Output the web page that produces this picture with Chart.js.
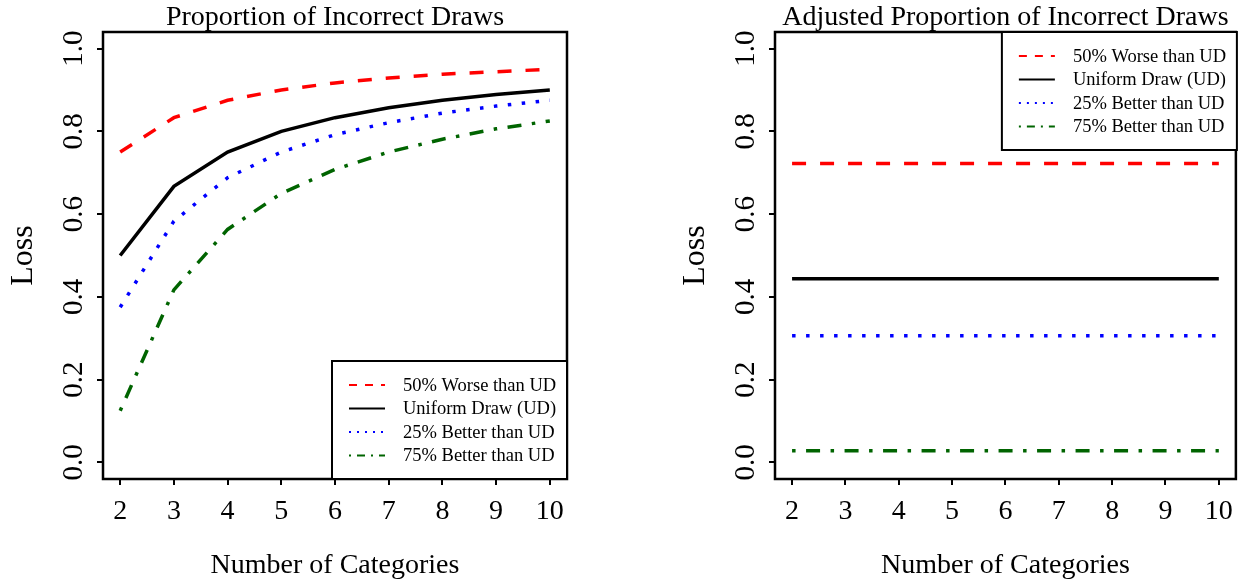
<!DOCTYPE html>
<html>
<head>
<meta charset="utf-8">
<script src="https://cdn.jsdelivr.net/npm/chart.js@4"></script>
<style>
  html, body { margin: 0; padding: 0; background: #fff; }
  #wrap { position: relative; width: 1243px; height: 580px; }
  canvas { position: absolute; top: 0; }
</style>
</head>
<body>
<div id="wrap">
  <canvas id="leftChart" width="621" height="580" style="left:0"></canvas>
  <canvas id="rightChart" width="622" height="580" style="left:621px"></canvas>
</div>
<script>
// number of categories on the x axis, and the loss ticks on y
const categories = [2, 3, 4, 5, 6, 7, 8, 9, 10];
const lossTicks = [0, 0.2, 0.4, 0.6, 0.8, 1.0];
const seriesNames = ['50% Worse than UD', 'Uniform Draw (UD)', '25% Better than UD', '75% Better than UD'];

// raw proportion of incorrect draws
const worseLoss    = [0.75, 0.833, 0.875, 0.9, 0.917, 0.929, 0.938, 0.944, 0.95];
const uniformLoss  = [0.5, 0.667, 0.75, 0.8, 0.833, 0.857, 0.875, 0.889, 0.9];
const better25Loss = [0.375, 0.583, 0.688, 0.75, 0.792, 0.821, 0.844, 0.861, 0.875];
const better75Loss = [0.125, 0.417, 0.563, 0.65, 0.708, 0.75, 0.781, 0.806, 0.825];

// adjusted proportion
const worseAdj    = [0.722, 0.722, 0.722, 0.722, 0.722, 0.722, 0.722, 0.722, 0.722];
const uniformAdj  = [0.444, 0.444, 0.444, 0.444, 0.444, 0.444, 0.444, 0.444, 0.444];
const better25Adj = [0.306, 0.306, 0.306, 0.306, 0.306, 0.306, 0.306, 0.306, 0.306];
const better75Adj = [0.028, 0.028, 0.028, 0.028, 0.028, 0.028, 0.028, 0.028, 0.028];

const FONT = '"Liberation Serif", "Times New Roman", serif';
const LW = 3.5;
const colors = ['#ff0000', '#000000', '#0000ff', '#006400'];
// R style lty: dashed, solid, dotted, dotdash (scaled by line width)
const ltys = [[4, 4], [], [1, 3], [1, 3, 4, 3]];

function buildDatasets(seriesList) {
  return seriesList.map((vals, i) => ({
    label: seriesNames[i],
    data: categories.map((c, j) => ({ x: c, y: vals[j] })),
    borderColor: colors[i],
    borderWidth: LW,
    borderDash: ltys[i].map(d => d * LW),
    borderCapStyle: 'butt',
    pointRadius: 0,
    tension: 0,
    fill: false
  }));
}

function drawLegend(ctx, chart, x, y) {
  const w = 235, h = 118;
  ctx.save();
  ctx.fillStyle = '#fff';
  ctx.fillRect(x, y, w, h);
  ctx.lineWidth = 2;
  ctx.strokeStyle = '#000';
  ctx.strokeRect(x, y, w, h);
  chart.data.datasets.forEach((ds, i) => {
    const ry = y + 24 + i * 23.5;
    ctx.save();
    ctx.strokeStyle = ds.borderColor;
    ctx.lineWidth = 2;
    ctx.setLineDash(ltys[i].map(d => d * 2));
    ctx.beginPath();
    ctx.moveTo(x + 17, ry);
    ctx.lineTo(x + 53, ry);
    ctx.stroke();
    ctx.restore();
    ctx.fillStyle = '#000';
    ctx.font = '18.5px ' + FONT;
    ctx.textAlign = 'left';
    ctx.textBaseline = 'middle';
    ctx.fillText(ds.label, x + 71, ry + 1);
  });
  ctx.restore();
}

function makePanel(canvasId, title, seriesList, boxLeft, padRight, legendPos) {
  const decor = {
    id: 'panelDecor',
    afterDraw(chart) {
      const ctx = chart.ctx;
      const area = chart.chartArea;
      const cx = (area.left + area.right) / 2;
      ctx.save();
      // plot box
      ctx.strokeStyle = '#000';
      ctx.lineWidth = 2.5;
      ctx.strokeRect(area.left, area.top, area.right - area.left, area.bottom - area.top);

      ctx.fillStyle = '#000';
      ctx.textAlign = 'center';
      ctx.textBaseline = 'alphabetic';
      ctx.font = '28px ' + FONT;
      ctx.fillText(title, cx, 25);
      ctx.fillText('Number of Categories', cx, 573);

      // rotated y tick labels
      const yScale = chart.scales.y;
      ctx.font = '29px ' + FONT;
      lossTicks.forEach(v => {
        ctx.save();
        ctx.translate(area.left - 21, yScale.getPixelForValue(v));
        ctx.rotate(-Math.PI / 2);
        ctx.fillText(v.toFixed(1), 0, 0);
        ctx.restore();
      });

      ctx.font = '32px ' + FONT;
      ctx.save();
      ctx.translate(area.left - 71, (area.top + area.bottom) / 2);
      ctx.rotate(-Math.PI / 2);
      ctx.fillText('Loss', 0, 0);
      ctx.restore();
      ctx.restore();

      if (legendPos === 'bottomright') {
        drawLegend(ctx, chart, area.right - 235, area.bottom - 118);
      } else {
        drawLegend(ctx, chart, area.right - 234, area.top);
      }
    }
  };

  return new Chart(document.getElementById(canvasId), {
    type: 'line',
    data: { datasets: buildDatasets(seriesList) },
    options: {
      responsive: false,
      animation: false,
      layout: { padding: { left: 0, top: 32, right: padRight, bottom: 0 } },
      plugins: { legend: { display: false }, tooltip: { enabled: false }, title: { display: false } },
      scales: {
        x: {
          type: 'linear',
          min: 1.68,
          max: 10.32,
          afterBuildTicks: s => { s.ticks = categories.map(v => ({ value: v })); },
          afterFit: s => { s.height = 101; },
          border: { display: false },
          grid: { drawOnChartArea: false, drawTicks: true, tickLength: 6, color: '#000', lineWidth: 2 },
          ticks: {
            color: '#000',
            font: { family: FONT, size: 28 },
            padding: 10,
            maxRotation: 0,
            autoSkip: false
          }
        },
        y: {
          type: 'linear',
          min: -0.04,
          max: 1.04,
          afterBuildTicks: s => { s.ticks = lossTicks.map(v => ({ value: v })); },
          afterFit: s => { s.width = boxLeft; },
          border: { display: false },
          grid: { drawOnChartArea: false, drawTicks: true, tickLength: 6, color: '#000', lineWidth: 2 },
          ticks: { display: false }
        }
      }
    },
    plugins: [decor]
  });
}

makePanel('leftChart', 'Proportion of Incorrect Draws',
  [worseLoss, uniformLoss, better25Loss, better75Loss], 103, 54, 'bottomright');
makePanel('rightChart', 'Adjusted Proportion of Incorrect Draws',
  [worseAdj, uniformAdj, better25Adj, better75Adj], 154, 5, 'topright');
</script>
</body>
</html>
